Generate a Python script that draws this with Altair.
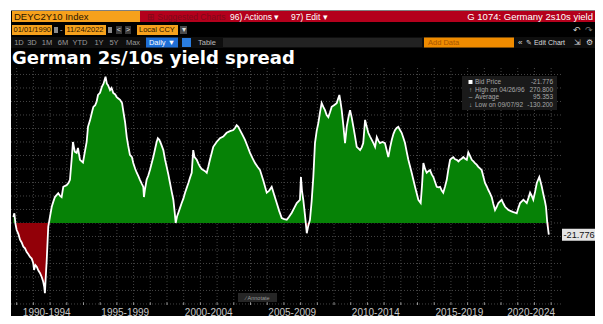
import altair as alt
import pandas as pd

# ---------------- data ----------------
years = [
    1990.80, 1990.86, 1990.93, 1991.00, 1991.10, 1991.20, 1991.30, 1991.40, 1991.50, 1991.60,
    1991.70, 1991.80, 1991.90, 1991.99, 1992.04, 1992.12, 1992.20, 1992.30, 1992.40, 1992.50,
    1992.59, 1992.65, 1992.69, 1992.74, 1992.80, 1992.89, 1992.99, 1993.10, 1993.20, 1993.29,
    1993.40, 1993.49, 1993.60, 1993.69, 1993.79, 1993.99, 1994.10, 1994.19, 1994.29, 1994.37,
    1994.48, 1994.59, 1994.67, 1994.79, 1994.97, 1995.10, 1995.19, 1995.27, 1995.39, 1995.50,
    1995.59, 1995.70, 1995.79, 1995.87, 1995.99, 1996.10, 1996.20, 1996.32, 1996.40, 1996.47,
    1996.59, 1996.68, 1996.78, 1996.90, 1996.99, 1997.07, 1997.19, 1997.31, 1997.40, 1997.49,
    1997.59, 1997.67, 1997.78, 1997.90, 1997.98, 1998.10, 1998.19, 1998.30, 1998.38, 1998.50,
    1998.58, 1998.62, 1998.68, 1998.78, 1998.88, 1998.98, 1999.08, 1999.18, 1999.28, 1999.38,
    1999.45, 1999.54, 1999.66, 1999.78, 1999.88, 1999.98, 2000.08, 2000.18, 2000.28, 2000.38,
    2000.46, 2000.52, 2000.60, 2000.68, 2000.78, 2000.88, 2000.98, 2001.08, 2001.18, 2001.28,
    2001.38, 2001.48, 2001.57, 2001.65, 2001.78, 2001.88, 2001.98, 2002.08, 2002.17, 2002.28,
    2002.38, 2002.48, 2002.57, 2002.68, 2002.77, 2002.97, 2003.17, 2003.37, 2003.57, 2003.77,
    2003.97, 2004.07, 2004.17, 2004.27, 2004.37, 2004.52, 2004.67, 2004.82, 2004.97, 2005.12,
    2005.27, 2005.42, 2005.57, 2005.77, 2005.97, 2006.12, 2006.27, 2006.42, 2006.57, 2006.72,
    2006.87, 2007.02, 2007.17, 2007.32, 2007.47, 2007.62, 2007.77, 2007.96, 2008.02, 2008.08,
    2008.16, 2008.26, 2008.37, 2008.46, 2008.56, 2008.66, 2008.76, 2008.86, 2008.96, 2009.06,
    2009.16, 2009.26, 2009.36, 2009.46, 2009.56, 2009.66, 2009.76, 2009.86, 2010.00, 2010.16,
    2010.32, 2010.40, 2010.46, 2010.56, 2010.66, 2010.76, 2010.86, 2010.96, 2011.06, 2011.16,
    2011.26, 2011.36, 2011.46, 2011.56, 2011.66, 2011.75, 2011.86, 2011.96, 2012.05, 2012.16,
    2012.26, 2012.36, 2012.46, 2012.56, 2012.66, 2012.75, 2012.90, 2013.05, 2013.15, 2013.25,
    2013.36, 2013.46, 2013.56, 2013.65, 2013.75, 2013.85, 2013.95, 2014.05, 2014.15, 2014.25,
    2014.35, 2014.45, 2014.55, 2014.65, 2014.75, 2014.85, 2014.95, 2015.05, 2015.12, 2015.19,
    2015.27, 2015.35, 2015.45, 2015.55, 2015.65, 2015.75, 2015.85, 2015.95, 2016.05, 2016.15,
    2016.25, 2016.35, 2016.45, 2016.54, 2016.65, 2016.75, 2016.85, 2016.95, 2017.05, 2017.14,
    2017.25, 2017.35, 2017.45, 2017.54, 2017.64, 2017.74, 2017.85, 2017.95, 2018.04, 2018.15,
    2018.25, 2018.35, 2018.44, 2018.54, 2018.64, 2018.74, 2018.84, 2018.94, 2019.04, 2019.14,
    2019.24, 2019.34, 2019.44, 2019.54, 2019.64, 2019.74, 2019.84, 2019.94, 2020.04, 2020.14,
    2020.24, 2020.34, 2020.44, 2020.59, 2020.74, 2020.84, 2020.94, 2021.04, 2021.14, 2021.24,
    2021.34, 2021.44, 2021.54, 2021.64, 2021.74, 2021.84, 2021.93, 2022.04, 2022.14, 2022.22,
    2022.29, 2022.37, 2022.44, 2022.50, 2022.57, 2022.63, 2022.69, 2022.77, 2022.86,
]
spread = [
    11, 18, -2, -13, -20, -31, -36, -44, -47, -54,
    -58, -63, -66, -74, -87, -78, -81, -88, -93, -100,
    -109, -118, -130.2, -100, -68, -7, 11, 30, 40, 48,
    52, 55, 50, 48, 67, 70, 74, 80, 117, 150,
    132, 130, 139, 117, 112, 135, 150, 178, 190, 204,
    215, 218, 225, 237, 241, 252, 258, 270.8, 258, 255,
    246, 250, 241, 238, 233, 231, 228, 222, 204, 187,
    159, 144, 126, 122, 111, 100, 93, 86, 80, 72,
    67, 48, 62, 80, 88, 98, 110, 122, 136, 150,
    157, 154, 145, 135, 118, 104, 90, 74, 58, 43,
    20, 0, 12, 19, 28, 37, 45, 56, 65, 74,
    84, 93, 135, 122, 117, 110, 104, 100, 98, 96,
    93, 105, 117, 130, 141, 150, 157, 160, 167, 170,
    172, 176, 181, 178, 172, 163, 154, 142, 130, 120,
    111, 104, 98, 78, 56, 60, 67, 52, 37, 22,
    9, 7, 6, 12, 19, 28, 37, 43, 85, 60,
    43, 15, -19, -5, 6, 40, 85, 148, 170, 185,
    205, 222, 215, 209, 200, 196, 205, 215, 218, 222,
    237, 222, 209, 180, 148, 178, 195, 209, 195, 178,
    160, 141, 138, 135, 140, 148, 191, 178, 167, 160,
    154, 148, 141, 159, 152, 148, 150, 148, 135, 122,
    140, 154, 165, 172, 176, 178, 172, 167, 158, 148,
    132, 117, 105, 93, 80, 67, 55, 43, 40, 37,
    70, 111, 100, 93, 96, 98, 90, 85, 76, 67,
    66, 67, 60, 56, 68, 80, 100, 117, 120, 122,
    118, 117, 114, 117, 119, 122, 119, 117, 131, 124,
    117, 114, 111, 108, 104, 101, 98, 86, 74, 68,
    61, 55, 48, 35, 24, 30, 37, 40, 43, 36,
    30, 27, 24, 22, 20, 19, 18, 28, 37, 40,
    43, 40, 37, 46, 56, 50, 43, 58, 74, 80,
    85, 76, 67, 58, 48, 40, 30, 0, -21.776,
]
y_ticks = [250, 200, 150, 100, 50, 0, -50, -100]
period_labels = ["1990-1994", "1995-1999", "2000-2004", "2005-2009",
                 "2010-2014", "2015-2019", "2020-2024"]
period_pos = [1992.8, 1997.5, 2002.5, 2007.5, 2012.5, 2017.5, 2021.8]
period_breaks = [1995, 2000, 2005, 2010, 2015, 2020]
legend_names = ["Bid Price", "High on 04/26/96", "Average", "Low on 09/07/92"]
legend_values = ["-21.776", "270.800", "95.353", "-130.200"]
last_value = -21.776

W, H = 550, 237
xscale = alt.Scale(domain=[1990.66, 2023.59], nice=False, zero=False)
yscale = alt.Scale(domain=[-151.9, 287], nice=False, zero=False)

# split into positive / negative parts, inserting the zero crossings
pts = []
for i in range(len(years)):
    if i > 0:
        a, b = spread[i - 1], spread[i]
        if (a > 0 and b < 0) or (a < 0 and b > 0):
            f = a / (a - b)
            pts.append((years[i - 1] + f * (years[i] - years[i - 1]), 0.0))
    pts.append((years[i], spread[i]))
area_df = pd.DataFrame({
    "t": [p[0] for p in pts],
    "pos": [max(p[1], 0) for p in pts],
    "neg": [min(p[1], 0) for p in pts],
    "zero": [0.0] * len(pts),
})
line_df = pd.DataFrame({"t": years, "v": spread})

grid_h = pd.DataFrame({"v": list(range(-150, 276, 25))})
grid_v = pd.DataFrame({"t": list(range(1991, 2024))})

gridH = alt.Chart(grid_h).mark_rule(color="#444444", strokeDash=[1, 2], strokeWidth=1).encode(
    y=alt.Y("v:Q", scale=yscale, axis=None))
gridV = alt.Chart(grid_v).mark_rule(color="#444444", strokeDash=[1, 2], strokeWidth=1).encode(
    x=alt.X("t:Q", scale=xscale, axis=None))

pos_area = alt.Chart(area_df).mark_area(color="#068206", interpolate="linear").encode(
    x=alt.X("t:Q", scale=xscale,
            axis=alt.Axis(values=period_breaks, labels=False, title=None, grid=False,
                          tickSize=12, tickColor="#6a6a6a", domainColor="#bdbdbd",
                          domainWidth=1)),
    y=alt.Y("pos:Q", scale=yscale,
            axis=alt.Axis(orient="right", values=y_ticks, title=None, grid=False,
                          labelColor="#d4d4d4", labelFontSize=10, labelFont="Liberation Sans",
                          tickSize=3, tickColor="#bdbdbd", domainColor="#bdbdbd",
                          labelPadding=2, labelOverlap=False, labelFlush=False)),
    y2="zero:Q",
)
neg_area = alt.Chart(area_df).mark_area(color="#920008", interpolate="linear").encode(
    x=alt.X("t:Q", scale=xscale, axis=None),
    y=alt.Y("neg:Q", scale=yscale, axis=None),
    y2="zero:Q",
)
line = alt.Chart(line_df).mark_line(color="#ffffff", strokeWidth=1.8).encode(
    x=alt.X("t:Q", scale=xscale, axis=None),
    y=alt.Y("v:Q", scale=yscale, axis=None),
)

year_ticks = alt.Chart(grid_v).mark_rule(color="#9a9a9a").encode(
    x=alt.X("t:Q", scale=xscale, axis=None),
    y=alt.value(H - 2.5), y2=alt.value(H))

periods = alt.Chart(pd.DataFrame({"t": period_pos, "l": period_labels})).mark_text(
    color="#c8c8c8", fontSize=10, font="Liberation Sans", align="center", baseline="alphabetic"
).encode(x=alt.X("t:Q", scale=xscale, axis=None), y=alt.value(247.5), text="l:N")

last_df = pd.DataFrame({"v": [last_value], "l": [f"{last_value:.3f}"]})
last_box = alt.Chart(last_df).mark_point(
    shape="M-1,-0.32L1,-0.32L1,0.32L-1,0.32Z", filled=True, size=1369,
    color="#e4e4e4", opacity=1, strokeWidth=0
).encode(x=alt.value(569.5), y=alt.Y("v:Q", scale=yscale, axis=None))
last_txt = alt.Chart(last_df).mark_text(
    color="#111111", fontSize=9.2, font="Liberation Sans", align="left", baseline="middle"
).encode(x=alt.value(552.5), y=alt.Y("v:Q", scale=yscale, axis=None), text="l:N")

# ---------------- terminal chrome (layout only) ----------------
OR = "#f6a11c"
rects = pd.DataFrame([
    (-3, 584, -60, -57.5, "#ffffff"),
    (-3, 0, -60, 248, "#ffffff"),
    (1, 129, -57, -46, OR),
    (129, 584, -57, -46, "#b4001c"),
    (1, 41, -43, -33, OR),
    (43, 47, -41, -35, "#8a8a8a"),
    (54, 95, -43, -33, OR),
    (97, 101, -41, -35, "#8a8a8a"),
    (105, 111, -42, -34, "#3a3a3a"),
    (114, 120, -42, -34, "#3a3a3a"),
    (126, 167, -43, -33, OR),
    (169, 176, -42, -34, "#4a4a4a"),
    (0, 584, -31, -20, "#0e0e0e"),
    (135, 167, -30.5, -20.5, "#1f6fd6"),
    (171, 180, -30, -21, "#2a7de0"),
    (212, 411, -30, -21, "#222222"),
    (413, 503, -30.5, -20.5, "#f08c00"),
    (451, 546, 8, 42, "#1a1a1a"),
    (457.5, 461.5, 12, 16, "#ffffff"),
    (227, 266, 225, 234, "#262626"),
], columns=["x", "x2", "y", "y2", "c"])
chrome = alt.Chart(rects).mark_rect().encode(
    x=alt.X("x:Q", scale=None), x2="x2:Q",
    y=alt.Y("y:Q", scale=None), y2="y2:Q",
    color=alt.Color("c:N", scale=None))

DK = "#2a1500"
texts_left = pd.DataFrame([
    ("DEYC2Y10 Index", 3, -51.5, DK, 9.5),
    ("\u229e Suggested Charts", 136, -51.5, "#7c0a18", 8.5),
    ("96) Actions \u25be", 219, -51.5, "#ffffff", 8.5),
    ("97) Edit \u25be", 280, -51.5, "#ffffff", 8.5),
    ("01/01/1990", 2.5, -38, DK, 7.5),
    ("-", 49, -38, "#cccccc", 7.5),
    ("11/24/2022", 55.5, -38, DK, 7.5),
    ("Local CCY", 128, -38, DK, 7.5),
    ("Table", 187, -25.5, "#bbbbbb", 7.5),
    ("Add Data", 417, -25.5, "#a85500", 7.5),
    ("\u00ab", 507, -25.5, "#dddddd", 8),
    ("\u270e Edit Chart", 515, -25.5, "#dddddd", 7),
] + [(n, 464, 14 + 7.5 * i, "#a8a8a8", 6.5) for i, n in enumerate(legend_names)],
    columns=["s", "x", "y", "c", "f"])
texts_center = pd.DataFrame([
    ("<", 108, -38, "#dddddd", 7.5),
    (">", 117, -38, "#dddddd", 7.5),
    ("\u25be", 172.5, -38, "#dddddd", 7.5),
    ("\u21b6", 566, -38, "#cccccc", 9),
    ("\u21b7", 578, -38, "#777777", 9),
    ("1D", 8, -25.5, "#9a9a9a", 7.5),
    ("3D", 21, -25.5, "#9a9a9a", 7.5),
    ("1M", 36, -25.5, "#9a9a9a", 7.5),
    ("6M", 52, -25.5, "#9a9a9a", 7.5),
    ("YTD", 69, -25.5, "#9a9a9a", 7.5),
    ("1Y", 88, -25.5, "#9a9a9a", 7.5),
    ("5Y", 103, -25.5, "#9a9a9a", 7.5),
    ("Max", 122, -25.5, "#9a9a9a", 7.5),
    ("Daily \u25bc", 151, -25.5, "#ffffff", 7.5),
    ("\u21f2", 566, -25.5, "#dddddd", 8),
    ("\u2699", 578, -25.5, "#dddddd", 8),
    ("\u2191", 459.5, 21.5, "#a8a8a8", 6.5),
    ("\u2013", 459.5, 29, "#a8a8a8", 6.5),
    ("\u2193", 459.5, 36.5, "#a8a8a8", 6.5),
    ("\u2215 Annotate", 246.5, 229.5, "#9a9a9a", 5.5),
], columns=["s", "x", "y", "c", "f"])
texts_right = pd.DataFrame([
    ("G 1074: Germany 2s10s yield", 582, -51.5, "#ffffff", 9.5),
] + [(val, 542, 14 + 7.5 * i, "#a8a8a8", 6.5) for i, val in enumerate(legend_values)],
    columns=["s", "x", "y", "c", "f"])


def text_layer(df, align):
    return alt.Chart(df).mark_text(align=align, baseline="middle",
                                   font="Liberation Sans").encode(
        x=alt.X("x:Q", scale=None), y=alt.Y("y:Q", scale=None),
        text="s:N", color=alt.Color("c:N", scale=None),
        size=alt.Size("f:Q", scale=None))


title = alt.Chart(pd.DataFrame({"s": ["German 2s/10s yield spread"]})).mark_text(
    align="left", baseline="alphabetic", font="DejaVu Sans", fontWeight="bold",
    fontSize=18, color="#ffffff"
).encode(x=alt.value(1), y=alt.value(-4), text="s:N")

chart = alt.layer(
    gridH, gridV, pos_area, neg_area, line, year_ticks, periods,
    last_box, last_txt, chrome,
    text_layer(texts_left, "left"), text_layer(texts_center, "center"),
    text_layer(texts_right, "right"), title,
).properties(
    width=W, height=H,
    padding={"left": 3, "top": 60, "right": 34, "bottom": 11},
    autosize=alt.AutoSizeParams(type="none"),
    background="#000000",
).configure_view(stroke=None)

chart.save("out.html", embed_options={"renderer": "svg", "actions": False})
